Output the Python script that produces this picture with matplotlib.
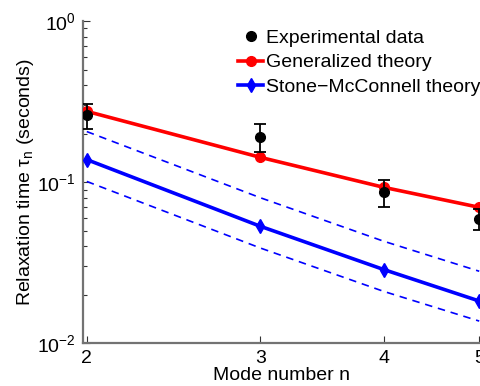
import matplotlib
matplotlib.use('Agg')
import matplotlib.pyplot as plt
from matplotlib.lines import Line2D
from matplotlib.ticker import FixedLocator, FixedFormatter, LogLocator, NullFormatter, NullLocator

plt.rcParams['font.family'] = ['Liberation Sans', 'DejaVu Sans']
plt.rcParams['mathtext.fontset'] = 'custom'
plt.rcParams['mathtext.rm'] = 'Liberation Sans'
plt.rcParams['mathtext.it'] = 'Liberation Sans'
plt.rcParams['mathtext.default'] = 'regular'
plt.rcParams['font.size'] = 14

# mode numbers
modes = [2, 3, 4, 5]
mode_labels = ['2', '3', '4', '5']

# experimental data with error bars
exp_tau = [0.262, 0.190, 0.0869, 0.0592]
exp_err_lo = [0.049, 0.037, 0.0164, 0.0089]
exp_err_hi = [0.043, 0.038, 0.0157, 0.0090]

# theories
gen_tau = [0.275, 0.1425, 0.0929, 0.0698]
sm_tau = [0.138, 0.0532, 0.0287, 0.0183]
sm_upper = [0.206, 0.080, 0.043, 0.0280]
sm_lower = [0.101, 0.039, 0.021, 0.01374]

fig = plt.figure(figsize=(4.8, 3.86), dpi=100)
ax = fig.add_axes([0.1723, 0.1106, 0.8277, 0.835])

ax.plot(modes, sm_upper, '--', color='#0000ff', lw=1.2, dashes=(4.5, 3.5), zorder=2)
ax.plot(modes, sm_lower, '--', color='#0000ff', lw=1.2, dashes=(4.5, 3.5), zorder=2)
l_gen, = ax.plot(modes, gen_tau, '-o', color='#ff0000', lw=2.6, ms=7,
                 label='Generalized theory', zorder=3)
l_sm, = ax.plot(modes, sm_tau, '-d', color='#0000ff', lw=2.6, ms=7,
                label='Stone\u2212McConnell theory', zorder=3)
ax.errorbar(modes, exp_tau, yerr=[exp_err_lo, exp_err_hi], fmt='o',
            color='black', ms=7, elinewidth=1.3, capsize=4.5,
            capthick=1.3, zorder=4)
h_exp = Line2D([], [], ls='none', marker='o', color='black', ms=7)

ax.set_xscale('log')
ax.set_yscale('log')
ax.set_xlim(1.981, 5.009)
ax.set_ylim(0.01, 1)

ax.xaxis.set_major_locator(FixedLocator(modes))
ax.xaxis.set_major_formatter(FixedFormatter(mode_labels))
ax.xaxis.set_minor_locator(NullLocator())
ax.yaxis.set_major_locator(LogLocator(base=10))
ax.yaxis.set_minor_locator(LogLocator(base=10, subs=range(2, 10)))
ax.yaxis.set_minor_formatter(NullFormatter())

for s in ['top', 'right']:
    ax.spines[s].set_visible(False)
for s in ['left', 'bottom']:
    ax.spines[s].set_color('0.45')
    ax.spines[s].set_linewidth(1.6)
ax.tick_params(which='both', direction='in', color='0.2', width=0.8)
ax.tick_params(which='major', length=5, pad=5)
ax.tick_params(which='minor', length=3)

ax.set_xlabel('Mode number n')
ax.xaxis.set_label_coords(0.5, -0.074)
ax.set_ylabel('Relaxation time τ$_n$ (seconds)')
ax.yaxis.set_label_coords(-0.118, 0.5)

fig.legend([h_exp, l_gen, l_sm],
           ['Experimental data', 'Generalized theory', 'Stone\u2212McConnell theory'],
           loc='upper left', bbox_to_anchor=(238 / 480, 1 - 29 / 386),
           frameon=False, borderpad=0, borderaxespad=0, handlelength=1.3,
           handletextpad=0.15, labelspacing=0.37, fontsize=14)

fig.savefig('out.png', dpi=100)
